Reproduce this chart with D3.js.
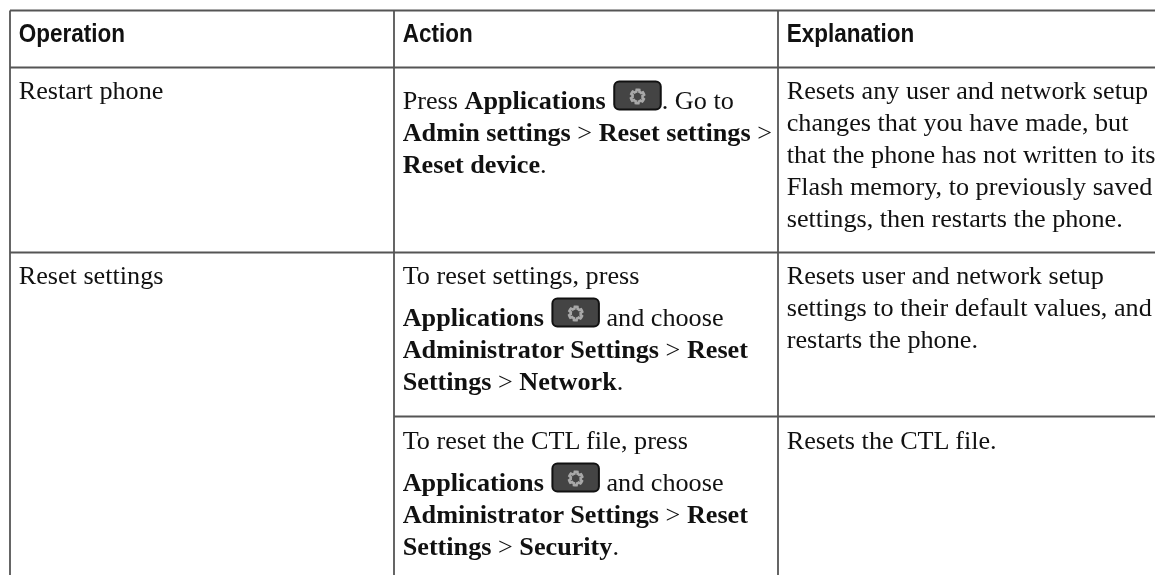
<!DOCTYPE html>
<html>
<head>
<meta charset="utf-8">
<script src="https://cdn.jsdelivr.net/npm/d3@7"></script>
<style>
  html, body { margin: 0; padding: 0; background: #fff; overflow: hidden; }
  text { white-space: pre; }
</style>
</head>
<body>
<div id="my_table"></div>
<script>
// table text, **x** is bold, @ is the applications icon
var headers = ["Operation", "Action", "Explanation"];

var operations = [
  {row: 0, lines: ["Restart phone"]},
  {row: 1, lines: ["Reset settings"]}
];

var actions = [
  ["Press **Applications **@. Go to", "**Admin settings** > **Reset settings** >", "**Reset device**."],
  ["To reset settings, press", "**Applications **@ and choose", "**Administrator Settings** > **Reset**", "**Settings** > **Network**."],
  ["To reset the CTL file, press", "**Applications **@ and choose", "**Administrator Settings** > **Reset**", "**Settings** > **Security**."]
];

var explanations = [
  ["Resets any user and network setup", "changes that you have made, but", "that the phone has not written to its", "Flash memory, to previously saved", "settings, then restarts the phone."],
  ["Resets user and network setup", "settings to their default values, and", "restarts the phone."],
  ["Resets the CTL file."]
];

var width = 1155, height = 575;
var lineColor = "#555", textColor = "#111";
var fontSize = 26.2, lineHeight = 32, iconExtra = 10;
var serif = "'Liberation Serif', serif";

// column lines and row lines of the table
var colEdges = [10, 394, 778];
var rowEdges = [67.5, 252.5, 416.5];
var rowOffsets = [31, 31, 32];
var topEdge = 10.5;
var padX = 8.7;

var svg = d3.select("#my_table")
  .append("svg")
    .attr("width", width)
    .attr("height", height)
    .style("display", "block")
    .style("filter", "blur(0.3px)");

// grid
var grid = svg.append("g")
  .attr("stroke", lineColor)
  .attr("stroke-width", 1.8)
  .attr("fill", "none");

grid.selectAll("line.v")
  .data(colEdges)
  .enter()
  .append("line")
    .attr("class", "v")
    .attr("x1", function(d) { return d; })
    .attr("x2", function(d) { return d; })
    .attr("y1", topEdge)
    .attr("y2", height);

grid.append("line")
  .attr("x1", colEdges[0]).attr("x2", width)
  .attr("y1", topEdge).attr("y2", topEdge);
grid.append("line")
  .attr("x1", colEdges[0]).attr("x2", width)
  .attr("y1", rowEdges[0]).attr("y2", rowEdges[0]);
grid.append("line")
  .attr("x1", colEdges[0]).attr("x2", width)
  .attr("y1", rowEdges[1]).attr("y2", rowEdges[1]);
// the operation cell spans two action rows
grid.append("line")
  .attr("x1", colEdges[1]).attr("x2", width)
  .attr("y1", rowEdges[2]).attr("y2", rowEdges[2]);

// headers, the original face is a condensed bold so squeeze it
svg.selectAll("text.header")
  .data(headers)
  .enter()
  .append("text")
    .attr("class", "header")
    .attr("transform", function(d, i) {
      return "translate(" + (colEdges[i] + padX) + ",41.5) scale(0.9,1)";
    })
    .attr("font-family", "'Liberation Sans', sans-serif")
    .attr("font-weight", "bold")
    .attr("font-size", 25)
    .attr("fill", "#111")
    .text(function(d) { return d; });

// gear outline for the icon
var gearPoints = d3.range(48).map(function(i) {
  var a = i / 48 * 2 * Math.PI;
  var tooth = (i + 1) % 8 < 4 ? 6.8 : 5;
  return [a, tooth];
});
var gearLine = d3.lineRadial().curve(d3.curveLinearClosed);

var iconWidth = 48.5, iconHeight = 30;

function drawIcon(g, x, baseline) {
  var icon = g.append("g").attr("transform", "translate(" + x + "," + (baseline - 28) + ")");
  icon.append("rect")
    .attr("x", 1).attr("y", 1)
    .attr("width", iconWidth - 2).attr("height", iconHeight - 2)
    .attr("rx", 5)
    .attr("fill", "#444")
    .attr("stroke", "#111")
    .attr("stroke-width", 2);
  icon.append("path")
    .attr("transform", "translate(24.3,16)")
    .attr("d", gearLine(gearPoints))
    .attr("fill", "none")
    .attr("stroke", "#a8a8a8")
    .attr("stroke-width", 2.6);
}

// write one line of text, advancing over bold runs and icons
function drawLine(g, line, x, y) {
  var parts = line.split("**");
  parts.forEach(function(part, i) {
    var bits = part.split("@");
    bits.forEach(function(bit, j) {
      if (j > 0) {
        drawIcon(g, x + 1, y);
        x += iconWidth + 1;
      }
      if (!bit) return;
      var t = g.append("text")
        .attr("x", x)
        .attr("y", y)
        .attr("font-family", serif)
        .attr("font-size", fontSize)
        .attr("font-weight", i % 2 ? "bold" : "normal")
        .attr("fill", textColor)
        .text(bit);
      x += t.node().getComputedTextLength();
    });
  });
}

function drawCell(lines, col, row) {
  var g = svg.append("g");
  var y = rowEdges[row] + rowOffsets[row];
  lines.forEach(function(line) {
    if (line.indexOf("@") >= 0) y += iconExtra;
    drawLine(g, line, colEdges[col] + padX, y);
    y += lineHeight;
  });
}

operations.forEach(function(d) { drawCell(d.lines, 0, d.row); });
actions.forEach(function(d, i) { drawCell(d, 1, i); });
explanations.forEach(function(d, i) { drawCell(d, 2, i); });
</script>
</body>
</html>
